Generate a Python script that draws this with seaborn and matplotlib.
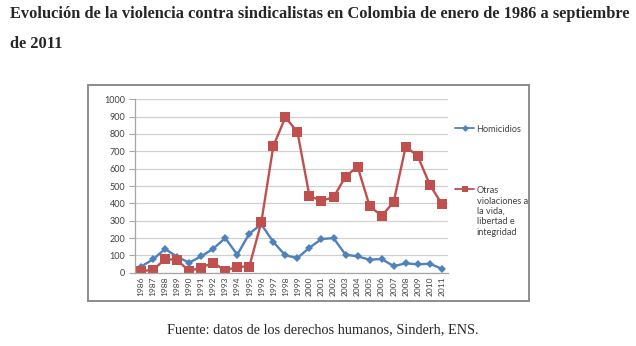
import matplotlib
matplotlib.use("Agg")
import matplotlib.pyplot as plt
from matplotlib.lines import Line2D
from matplotlib.patches import Rectangle
import seaborn as sns
import pandas as pd

years = [str(y) for y in range(1986, 2012)]
homicidios = [35, 77, 137, 92, 58, 94, 138, 200, 104, 225, 279, 177, 100,
              85, 144, 194, 200, 104, 94, 75, 79, 38, 54, 48, 52, 23]
otras = [10, 15, 79, 73, 10, 29, 58, 12, 35, 35, 292, 731, 896,
         812, 442, 415, 435, 554, 612, 385, 327, 408, 727, 673, 508, 396]
series_names = ["Homicidios", "Otras\nviolaciones a\nla vida,\nlibertad e\nintegridad"]
y_ticks = list(range(0, 1001, 100))

title_lines = ["Evolución de la violencia contra sindicalistas en Colombia de enero de 1986 a septiembre",
               "de 2011"]
caption = "Fuente: datos de los derechos humanos, Sinderh, ENS."

blue = "#4F81BD"
red = "#C0504D"

df = pd.DataFrame({
    "pos": list(range(len(years))) * 2,
    "valor": homicidios + otras,
    "serie": [series_names[0]] * len(years) + [series_names[1]] * len(years),
})

sns.set_theme(style="white")
plt.rcParams["font.family"] = ["Lato", "DejaVu Sans"]

W, H = 636, 346
fig = plt.figure(figsize=(W / 100, H / 100), dpi=100)

def fx(px):
    return px / W

def fy(py):
    return 1 - py / H

# chart frame
fig.patches.append(Rectangle((fx(88), fy(300.5)), fx(529) - fx(88), fy(84.5) - fy(300.5),
                             transform=fig.transFigure, fill=False,
                             edgecolor="#8c8c8c", linewidth=1.4, zorder=0))

ax = fig.add_axes([fx(135), fy(272.7), fx(447.8) - fx(135), fy(99.3) - fy(272.7)])
sns.lineplot(data=df, x="pos", y="valor", hue="serie", style="serie",
             palette=[blue, red], markers=["D", "s"], dashes=False,
             linewidth=1.7, ax=ax, legend=False)

ax.lines[0].set_markersize(4)
ax.lines[0].set_markeredgewidth(0)
ax.lines[1].set_markersize(6.5)
ax.lines[1].set_markeredgewidth(0)

ax.set_xlim(-0.5, len(years) - 0.5)
ax.set_ylim(0, 1000)
ax.set_yticks(y_ticks)
ax.set_yticklabels([str(t) for t in y_ticks], fontsize=6.5, color="#404040")
ax.set_xticks(range(len(years)))
ax.set_xticklabels(years, rotation=90, fontsize=6, color="#404040")
ax.set_xlabel("")
ax.set_ylabel("")
ax.grid(axis="y", color="#d0d0d0", linewidth=0.9)
ax.set_axisbelow(True)
for side in ["top", "right"]:
    ax.spines[side].set_visible(False)
for side in ["left", "bottom"]:
    ax.spines[side].set_color("#a6a6a6")
    ax.spines[side].set_linewidth(0.9)
ax.tick_params(axis="y", length=4, width=0.8, color="#a6a6a6", pad=3, left=True)
ax.tick_params(axis="x", length=0, pad=3)

handles = [Line2D([], [], color=blue, marker="D", markersize=3.5, markeredgewidth=0, linewidth=1.3),
           Line2D([], [], color=red, marker="s", markersize=5, markeredgewidth=0, linewidth=1.3)]
leg = fig.legend(handles, series_names, loc="upper left",
                 bbox_to_anchor=(fx(455), fy(125)), frameon=False,
                 fontsize=6.6, handlelength=2.1, handletextpad=0.25,
                 labelspacing=5.7, borderpad=0, borderaxespad=0)
for t in leg.get_texts():
    t.set_color("#404040")
# keep each legend marker level with the first line of its label
for column in leg._legend_handle_box.get_children():
    for row in column.get_children():
        row.align = "top"

fig.text(fx(10), fy(14), title_lines[0], family="Liberation Serif", weight="bold",
         fontsize=11.8, va="center", ha="left")
fig.text(fx(10), fy(44), title_lines[1], family="Liberation Serif", weight="bold",
         fontsize=11.8, va="center", ha="left")
fig.text(fx(323), fy(330), caption, family="Liberation Serif", fontsize=10.3,
         va="center", ha="center")

fig.savefig("out.png", dpi=100)
